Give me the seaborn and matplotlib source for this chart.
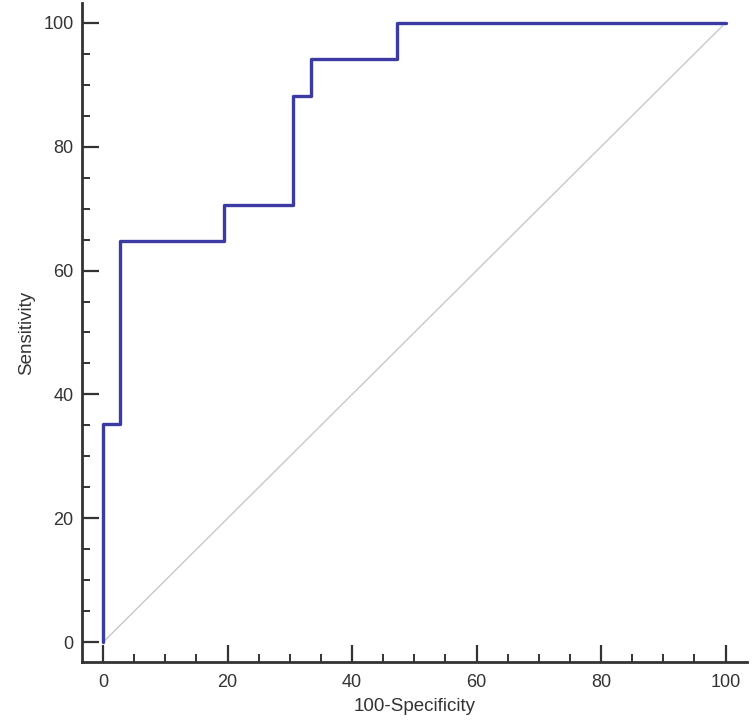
import numpy as np
import pandas as pd
import matplotlib
matplotlib.use("Agg")
import matplotlib.pyplot as plt
from matplotlib.ticker import MultipleLocator
import seaborn as sns

# ROC curve vertices (100-specificity, sensitivity)
fpr = [0, 0, 2.78, 19.44, 30.56, 33.33, 47.22, 100]
tpr = [0, 35.29, 64.71, 70.59, 88.24, 94.12, 100, 100]
diag = [0, 100]
ticks = [0, 20, 40, 60, 80, 100]

sns.set_style("white")
plt.rcParams["font.family"] = ["Liberation Sans", "DejaVu Sans"]

df = pd.DataFrame({"fpr": fpr, "tpr": tpr})

fig = plt.figure(figsize=(7.52, 7.23), dpi=100)
ax = fig.add_axes([0.109, 0.0844, 0.884, 0.9115])

sns.lineplot(x=diag, y=diag, ax=ax, color="#c8c8c8", linewidth=1.0,
             sort=False, estimator=None)
sns.lineplot(data=df, x="fpr", y="tpr", ax=ax, color="#3b3ba3", linewidth=2.4,
             sort=False, estimator=None, drawstyle="steps-post")

ax.set_xlim(-3.4, 103.4)
ax.set_ylim(-3.2, 103.2)
ax.set_xticks(ticks)
ax.set_yticks(ticks)
ax.xaxis.set_minor_locator(MultipleLocator(5))
ax.yaxis.set_minor_locator(MultipleLocator(5))

for s in ["top", "right"]:
    ax.spines[s].set_visible(False)
for s in ["left", "bottom"]:
    ax.spines[s].set_linewidth(2.0)
    ax.spines[s].set_color("#333333")

ax.tick_params(which="major", direction="in", length=12, width=1.6,
               color="#333333", labelsize=13, labelcolor="#333333", pad=6,
               left=True, bottom=True)
ax.tick_params(axis="x", which="major", pad=9)
ax.tick_params(which="minor", direction="in", length=6, width=1.4,
               color="#333333", left=True, bottom=True)

ax.set_xlabel("100-Specificity", fontsize=13.5, color="#333333", labelpad=5)
ax.set_ylabel("Sensitivity", fontsize=13.5, color="#333333", labelpad=6)

fig.savefig("out.png", dpi=100)
